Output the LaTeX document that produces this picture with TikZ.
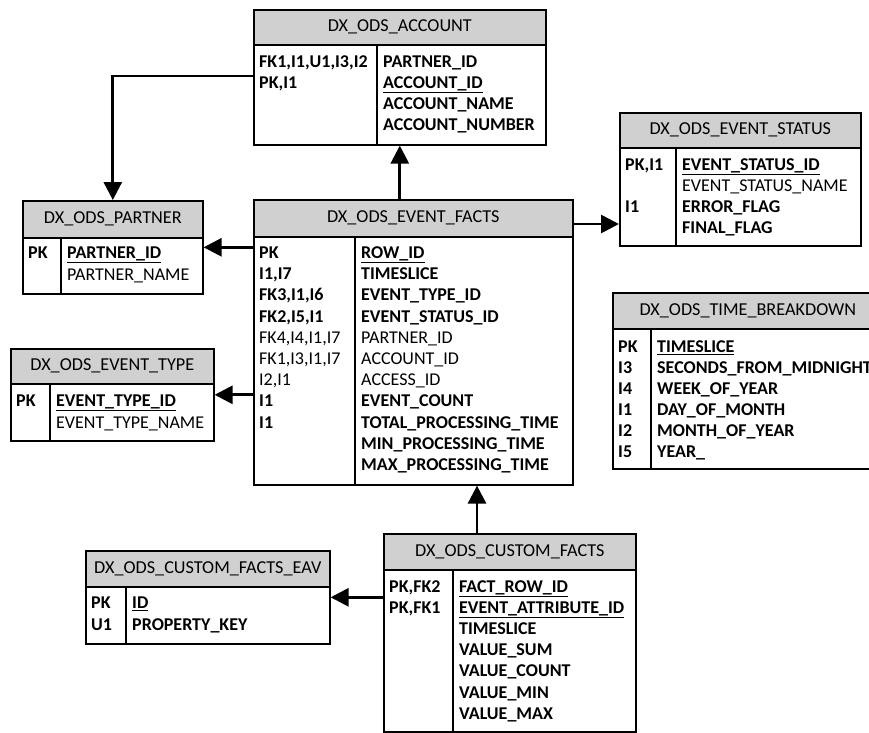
\documentclass[tikz,border=0pt]{standalone}
\usepackage{fontspec}
\setmainfont{Carlito}
\usetikzlibrary{arrows.meta}
\definecolor{hdrgray}{RGB}{208,208,208}
\tikzset{
 tbox/.style={draw=black, line width=1.6pt, inner sep=0pt},
 thdr/.style={draw=black, line width=1.6pt, fill=hdrgray, inner sep=0pt, font=\fontsize{18.2}{21}\selectfont, text=black},
 fld/.style={inner sep=0pt, anchor=west, text height=11.5pt, text depth=0pt, font=\fontsize{18}{21}\selectfont\bfseries},
 fldr/.style={fld, font=\fontsize{18}{21}\selectfont, text=black},
 rel/.style={line width=2.8pt, -{Triangle[length=18pt,width=18pt]}},
 divl/.style={line width=1.4pt},
}
% #1 name, #2 x1, #3 y1, #4 x2, #5 y2, #6 header bottom, #7 divider x, #8 title
\newcommand\erhead[8]{%
 \node[thdr, anchor=north west, minimum width={#4-#2}, minimum height={#6-#3}] (#1-t) at (#2,#3) {#8};
 \node[tbox, anchor=north west, minimum width={#4-#2}, minimum height={#5-#3}] (#1) at (#2,#3) {};
 \draw[divl] (#7,#6) -- (#7,#5);
}
\newcommand\fr[5]{\node[#1] (#2) at (#3,#4) {#5};}
\begin{document}
\begin{tikzpicture}[x=1pt, y=-1pt]
\useasboundingbox (0,0) rectangle (869,732);
\clip (0,0) rectangle (869,732);
\fill[white] (0,0) rectangle (869,732);

% ACCOUNT
\erhead{acc}{253}{9}{545}{144}{44}{377}{DX\_ODS\_ACCOUNT}
\fr{fld}{acc-k1}{259}{62}{FK1,I1,U1,I3,I2}
\fr{fld}{acc-k2}{259}{83}{PK,I1}
\fr{fld}{acc-f1}{383}{62}{PARTNER\_ID}
\fr{fld}{acc-f2}{383}{83}{\underline{ACCOUNT\_ID}}
\fr{fld}{acc-f3}{383}{104}{ACCOUNT\_NAME}
\fr{fld}{acc-f4}{383}{125}{ACCOUNT\_NUMBER}

% EVENT STATUS
\erhead{sta}{619}{112}{860}{245}{147}{676}{DX\_ODS\_EVENT\_STATUS}
\fr{fld}{sta-k1}{625}{165}{PK,I1}
\fr{fld}{sta-k3}{625}{207}{I1}
\fr{fld}{sta-f1}{682}{165}{\underline{EVENT\_STATUS\_ID}}
\fr{fldr}{sta-f2}{682}{186}{EVENT\_STATUS\_NAME}
\fr{fld}{sta-f3}{682}{207}{ERROR\_FLAG}
\fr{fld}{sta-f4}{682}{228}{FINAL\_FLAG}

% PARTNER
\erhead{par}{22}{200}{202}{293}{237}{61}{DX\_ODS\_PARTNER}
\fr{fld}{par-k1}{28}{253}{PK}
\fr{fld}{par-f1}{67}{253}{\underline{PARTNER\_ID}}
\fr{fldr}{par-f2}{67}{275}{PARTNER\_NAME}

% EVENT FACTS
\erhead{fac}{253}{199}{572}{484}{236}{355}{DX\_ODS\_EVENT\_FACTS}
\fr{fld}{fac-k1}{259}{253}{PK}
\fr{fld}{fac-k2}{259}{274}{I1,I7}
\fr{fld}{fac-k3}{259}{295}{FK3,I1,I6}
\fr{fld}{fac-k4}{259}{317}{FK2,I5,I1}
\fr{fldr}{fac-k5}{259}{338}{FK4,I4,I1,I7}
\fr{fldr}{fac-k6}{259}{359}{FK1,I3,I1,I7}
\fr{fldr}{fac-k7}{259}{380}{I2,I1}
\fr{fld}{fac-k8}{259}{401}{I1}
\fr{fld}{fac-k9}{259}{423}{I1}
\fr{fld}{fac-f1}{361}{253}{\underline{ROW\_ID}}
\fr{fld}{fac-f2}{361}{274}{TIMESLICE}
\fr{fld}{fac-f3}{361}{295}{EVENT\_TYPE\_ID}
\fr{fld}{fac-f4}{361}{317}{EVENT\_STATUS\_ID}
\fr{fldr}{fac-f5}{361}{338}{PARTNER\_ID}
\fr{fldr}{fac-f6}{361}{359}{ACCOUNT\_ID}
\fr{fldr}{fac-f7}{361}{380}{ACCESS\_ID}
\fr{fld}{fac-f8}{361}{401}{EVENT\_COUNT}
\fr{fld}{fac-f9}{361}{423}{TOTAL\_PROCESSING\_TIME}
\fr{fld}{fac-f10}{361}{444}{MIN\_PROCESSING\_TIME}
\fr{fld}{fac-f11}{361}{465}{MAX\_PROCESSING\_TIME}

% TIME BREAKDOWN
\erhead{tim}{612}{292}{882}{468}{328}{651}{DX\_ODS\_TIME\_BREAKDOWN}
\fr{fld}{tim-k1}{618}{347}{PK}
\fr{fld}{tim-k2}{618}{368}{I3}
\fr{fld}{tim-k3}{618}{389}{I4}
\fr{fld}{tim-k4}{618}{410}{I1}
\fr{fld}{tim-k5}{618}{431}{I2}
\fr{fld}{tim-k6}{618}{452}{I5}
\fr{fld}{tim-f1}{657}{347}{\underline{TIMESLICE}}
\fr{fld}{tim-f2}{657}{368}{SECONDS\_FROM\_MIDNIGHT}
\fr{fld}{tim-f3}{657}{389}{WEEK\_OF\_YEAR}
\fr{fld}{tim-f4}{657}{410}{DAY\_OF\_MONTH}
\fr{fld}{tim-f5}{657}{431}{MONTH\_OF\_YEAR}
\fr{fld}{tim-f6}{657}{452}{YEAR\_}

% EVENT TYPE
\erhead{typ}{10}{348}{213}{440}{383}{50}{DX\_ODS\_EVENT\_TYPE}
\fr{fld}{typ-k1}{16}{401}{PK}
\fr{fld}{typ-f1}{56}{401}{\underline{EVENT\_TYPE\_ID}}
\fr{fldr}{typ-f2}{56}{423}{EVENT\_TYPE\_NAME}

% CUSTOM FACTS EAV
\erhead{eav}{85}{550}{329}{643}{586}{126}{DX\_ODS\_CUSTOM\_FACTS\_EAV}
\fr{fld}{eav-k1}{91}{603}{PK}
\fr{fld}{eav-k2}{91}{625}{U1}
\fr{fld}{eav-f1}{132}{603}{\underline{ID}}
\fr{fld}{eav-f2}{132}{625}{PROPERTY\_KEY}

% CUSTOM FACTS
\erhead{cus}{383}{533}{635}{731}{569}{453}{DX\_ODS\_CUSTOM\_FACTS}
\fr{fld}{cus-k1}{389}{587}{PK,FK2}
\fr{fld}{cus-k2}{389}{608}{PK,FK1}
\fr{fld}{cus-f1}{459}{587}{\underline{FACT\_ROW\_ID}}
\fr{fld}{cus-f2}{459}{608}{\underline{EVENT\_ATTRIBUTE\_ID}}
\fr{fld}{cus-f3}{459}{629}{TIMESLICE}
\fr{fld}{cus-f4}{459}{650}{VALUE\_SUM}
\fr{fld}{cus-f5}{459}{671}{VALUE\_COUNT}
\fr{fld}{cus-f6}{459}{693}{VALUE\_MIN}
\fr{fld}{cus-f7}{459}{714}{VALUE\_MAX}

% relations
\coordinate (a1) at (253,76);
\coordinate (f1) at (572,224);
\coordinate (c1) at (477,533);
\draw[rel] (acc.south |- fac.north) -- (acc.south);
\draw[rel] (a1) -| (par.north);
\draw[rel] (par.east -| fac.west) -- (par.east);
\draw[rel] (typ.east -| fac.west) -- (typ.east);
\draw[rel] (f1) -- (f1 -| sta.west);
\draw[rel] (c1) -- (c1 |- fac.south);
\draw[rel] (eav.east -| cus.west) -- (eav.east);
\end{tikzpicture}
\end{document}
